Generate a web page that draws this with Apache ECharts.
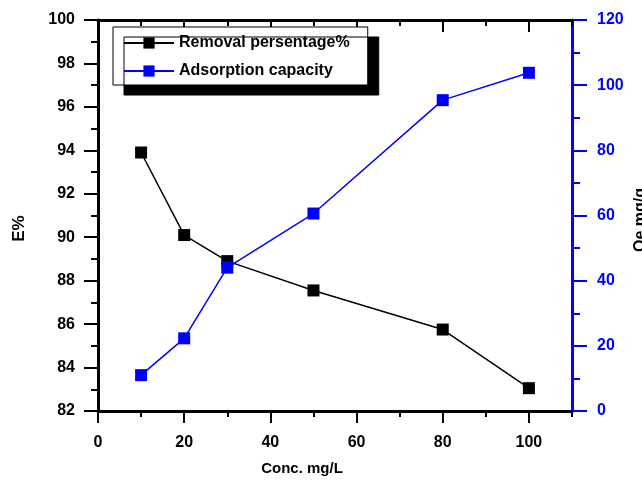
<!DOCTYPE html>
<html>
<head>
<meta charset="utf-8">
<script src="https://cdn.jsdelivr.net/npm/echarts@6/dist/echarts.min.js"></script>
<style>html,body{margin:0;padding:0;background:#fff;}#c{width:642px;height:482px;}</style>
</head>
<body>
<div id="c"></div>
<script>
const conc = [10, 20, 30, 50, 80, 100];
const removal = [93.9, 90.1, 88.9, 87.55, 85.75, 83.05];
const capacity = [11, 22.3, 44, 60.6, 95.4, 103.8];
const xMajor = [0, 20, 40, 60, 80, 100];
const xMinor = [10, 30, 50, 70, 90, 110];

const FONT = 'Liberation Sans, Arial, sans-serif';
const chart = echarts.init(document.getElementById('c'), null, {renderer: 'canvas'});
const baseX = {
  type: 'value', min: 0, max: 110, interval: 10, splitLine: {show: false}
};
chart.setOption({
  animation: false,
  backgroundColor: '#fff',
  grid: {left: 98, right: 70, top: 20, bottom: 71, outerBoundsMode: 'none'},
  legend: {
    orient: 'vertical', left: 113, top: 27,
    padding: [8, 18, 6, 10], itemGap: 12,
    itemWidth: 50, itemHeight: 14,
    backgroundColor: '#fff', borderColor: '#000', borderWidth: 1,
    shadowColor: '#000', shadowOffsetX: 11, shadowOffsetY: 10, shadowBlur: 0,
    textStyle: {fontFamily: FONT, fontWeight: 'bold', fontSize: 16, color: '#000'},
    data: ['Removal persentage%', 'Adsorption capacity']
  },
  xAxis: [
    Object.assign({}, baseX, {
      position: 'bottom',
      name: 'Conc. mg/L', nameLocation: 'middle', nameGap: 50,
      nameTextStyle: {fontFamily: FONT, fontWeight: 'bold', fontSize: 15, color: '#000', padding: [0, 66, 0, 0]},
      axisLine: {show: true, onZero: false, lineStyle: {color: '#000', width: 3}},
      axisTick: {show: true, inside: false, length: 12, lineStyle: {color: '#000', width: 2}, customValues: xMajor},
      axisLabel: {show: true, margin: 24, fontFamily: FONT, fontWeight: 'bold', fontSize: 16, color: '#000', customValues: xMajor}
    }),
    Object.assign({}, baseX, {
      position: 'bottom',
      axisLine: {show: false, onZero: false},
      axisTick: {show: true, inside: false, length: 6, lineStyle: {color: '#000', width: 2}, customValues: xMinor},
      axisLabel: {show: false}
    }),
    Object.assign({}, baseX, {
      position: 'top',
      axisLine: {show: true, onZero: false, lineStyle: {color: '#000', width: 3}},
      axisTick: {show: true, inside: true, length: 12, lineStyle: {color: '#000', width: 2}, customValues: xMajor},
      axisLabel: {show: false}
    }),
    Object.assign({}, baseX, {
      position: 'top',
      axisLine: {show: false, onZero: false},
      axisTick: {show: true, inside: true, length: 6, lineStyle: {color: '#000', width: 2}, customValues: xMinor},
      axisLabel: {show: false}
    })
  ],
  yAxis: [
    {
      type: 'value', position: 'left', min: 82, max: 100, interval: 2,
      name: 'E%', nameLocation: 'middle', nameGap: 70, nameRotate: 90,
      nameTextStyle: {fontFamily: FONT, fontWeight: 'bold', fontSize: 17, color: '#000', padding: [0, 26, 0, 0]},
      splitLine: {show: false},
      axisLine: {show: true, onZero: false, lineStyle: {color: '#000', width: 3}},
      axisTick: {show: true, inside: false, length: 14, lineStyle: {color: '#000', width: 2}},
      minorTick: {show: true, splitNumber: 2, length: 7, lineStyle: {color: '#000', width: 2}},
      axisLabel: {margin: 23, fontFamily: FONT, fontWeight: 'bold', fontSize: 16, color: '#000'}
    },
    {
      type: 'value', position: 'right', min: 0, max: 120, interval: 20,
      name: 'Qe mg/g', nameLocation: 'middle', nameGap: 61, nameRotate: 90, nameMoveOverlap: false,
      nameTextStyle: {fontFamily: FONT, fontWeight: 'bold', fontSize: 16, color: '#000', padding: [0, 9, 0, 0]},
      splitLine: {show: false},
      axisLine: {show: true, onZero: false, lineStyle: {color: '#0000ff', width: 3}},
      axisTick: {show: true, inside: false, length: 15, lineStyle: {color: '#0000ff', width: 2}},
      minorTick: {show: true, splitNumber: 2, length: 8, lineStyle: {color: '#0000ff', width: 2}},
      axisLabel: {margin: 25, fontFamily: FONT, fontWeight: 'bold', fontSize: 16, color: '#0000ff'}
    }
  ],
  series: [
    {
      name: 'Removal persentage%', type: 'line', xAxisIndex: 0, yAxisIndex: 0,
      data: conc.map((x, i) => [x, removal[i]]),
      symbol: 'rect', symbolSize: 12,
      itemStyle: {color: '#000'},
      lineStyle: {color: '#000', width: 1.5}
    },
    {
      name: 'Adsorption capacity', type: 'line', xAxisIndex: 0, yAxisIndex: 1,
      data: conc.map((x, i) => [x, capacity[i]]),
      symbol: 'rect', symbolSize: 12,
      itemStyle: {color: '#0000ff'},
      lineStyle: {color: '#0000ff', width: 1.5}
    }
  ]
});
</script>
</body>
</html>
